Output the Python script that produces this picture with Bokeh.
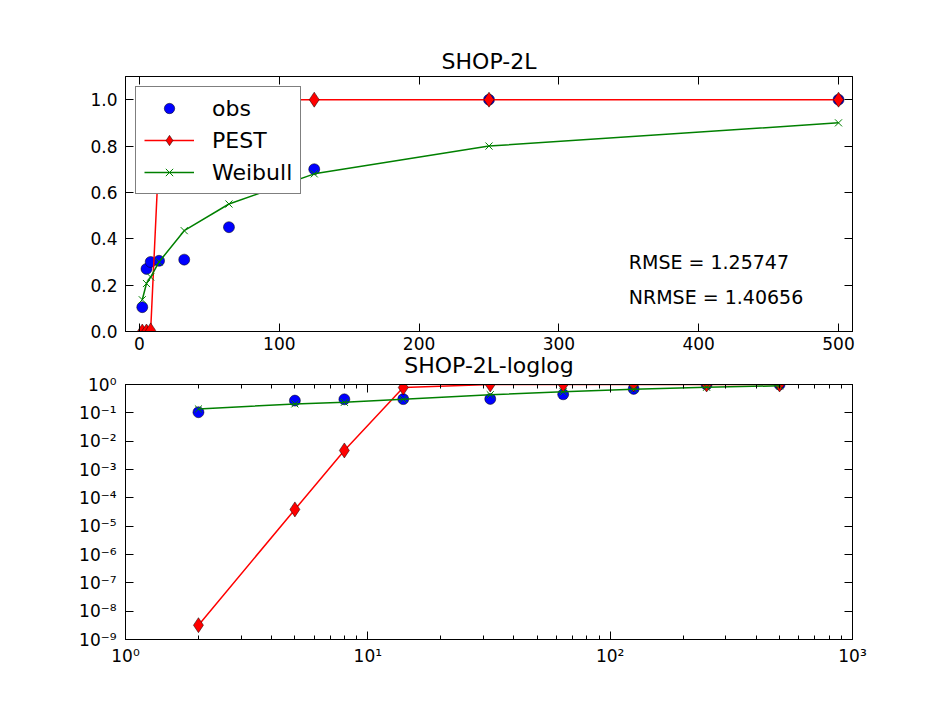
from bokeh.plotting import figure
from bokeh.layouts import column
from bokeh.models import (Range1d, LinearAxis, LogAxis, FixedTicker, PrintfTickFormatter,
                          CustomJSTickFormatter, Legend, LegendItem, ColumnDataSource)
from bokeh.core.properties import value
from bokeh.embed import file_html
from bokeh.resources import INLINE

# ---------------- data ----------------
x_vals = [2, 5, 8, 14, 32, 64, 125, 250, 500]
obs = [0.105, 0.27, 0.30, 0.305, 0.31, 0.45, 0.70, 1.0, 1.0]
pest = [3.2e-9, 3.9e-5, 4.7e-3, 0.78, 1.0, 1.0, 1.0, 1.0, 1.0]
weibull = [0.137, 0.207, 0.235, 0.30, 0.435, 0.55, 0.68, 0.80, 0.90]

title_lin = "SHOP-2L"
title_log = "SHOP-2L-loglog"
rmse_label = "RMSE = 1.25747"
nrmse_label = "NRMSE = 1.40656"
stat_x = [350, 350]
stat_y = [0.30, 0.15]

lin_xticks = [0, 100, 200, 300, 400, 500]
lin_yticks = [0.0, 0.2, 0.4, 0.6, 0.8, 1.0]
log_xticks = [1, 10, 100, 1000]
log_xminor = [m * d for d in (1, 10, 100) for m in range(2, 10)]
log_yticks = [1e-9, 1e-8, 1e-7, 1e-6, 1e-5, 1e-4, 1e-3, 1e-2, 1e-1, 1]

FONT = "DejaVu Sans"
TICK_FS = "17px"
BLUE = "#0000ff"
RED = "#ff0000"
GREEN = "#008000"

src = ColumnDataSource(dict(x=x_vals, obs=obs, pest=pest, weibull=weibull))

SUP = CustomJSTickFormatter(code="""
const s = {'-':'\u207b','0':'\u2070','1':'\u00b9','2':'\u00b2','3':'\u00b3','4':'\u2074',
           '5':'\u2075','6':'\u2076','7':'\u2077','8':'\u2078','9':'\u2079'};
const e = Math.round(Math.log10(tick));
return '10' + String(e).split('').map(c => s[c]).join('');
""")
BLANK = CustomJSTickFormatter(code="return ''")


def style_axis(ax, standoff):
    ax.axis_line_color = "black"
    ax.major_tick_line_color = "black"
    ax.minor_tick_line_color = "black"
    ax.major_tick_in = 8
    ax.major_tick_out = 0
    ax.minor_tick_in = 4
    ax.minor_tick_out = 0
    ax.major_label_text_font = FONT
    ax.major_label_text_font_size = TICK_FS
    ax.major_label_text_color = "black"
    ax.major_label_standoff = standoff


def style_fig(p):
    p.xgrid.visible = False
    p.ygrid.visible = False
    p.outline_line_color = "black"
    p.outline_line_width = 1
    p.background_fill_color = "white"
    p.title.text_font = FONT
    p.title.text_font_style = "normal"
    p.title.text_font_size = "22px"
    p.title.align = "center"
    p.title.text_color = "black"


def draw_series(p):
    r_obs = p.scatter("x", "obs", source=src, marker="circle", size=11,
                      fill_color=BLUE, line_color="black", line_width=0.5)
    r_pl = p.line("x", "pest", source=src, line_color=RED, line_width=1.5)
    r_pm = p.scatter("x", "pest", source=src, marker="diamond", size=15,
                     fill_color=RED, line_color="black", line_width=0.5)
    r_wl = p.line("x", "weibull", source=src, line_color=GREEN, line_width=1.5)
    r_wm = p.scatter("x", "weibull", source=src, marker="x", size=10,
                     line_color=GREEN, line_width=1)
    return r_obs, r_pl, r_pm, r_wl, r_wm


# ---------------- linear plot ----------------
p1 = figure(frame_width=727, frame_height=255, x_range=Range1d(-10, 510),
            y_range=Range1d(0, 1.1), output_backend="svg", toolbar_location=None,
            min_border_left=125, min_border_right=64, min_border_top=76,
            min_border_bottom=0, title=title_lin)
style_fig(p1)
p1.border_fill_color = "white"
p1.title.standoff = 6
p1.xaxis.ticker = FixedTicker(ticks=lin_xticks)
p1.yaxis.ticker = FixedTicker(ticks=lin_yticks)
p1.yaxis.formatter = PrintfTickFormatter(format="%.1f")
style_axis(p1.xaxis[0], 5)
style_axis(p1.yaxis[0], 8)
p1.xaxis.minor_tick_line_color = None
p1.yaxis.minor_tick_line_color = None
ax_r = LinearAxis(ticker=FixedTicker(ticks=lin_yticks), formatter=BLANK)
ax_t = LinearAxis(ticker=FixedTicker(ticks=lin_xticks), formatter=BLANK)
for a in (ax_r, ax_t):
    style_axis(a, 0)
    a.minor_tick_line_color = None
p1.add_layout(ax_r, "right")
p1.add_layout(ax_t, "above")

r_obs, r_pl, r_pm, r_wl, r_wm = draw_series(p1)

p1.text(x=stat_x, y=stat_y, text=[rmse_label, nrmse_label], text_font=value(FONT),
        text_font_size="19px", text_color="black", text_baseline="alphabetic",
        text_align="left")

legend = Legend(items=[LegendItem(label="obs", renderers=[r_obs]),
                       LegendItem(label="PEST", renderers=[r_pl, r_pm]),
                       LegendItem(label="Weibull", renderers=[r_wl, r_wm])],
                location="top_left")
legend.border_line_color = "black"
legend.border_line_width = 1
legend.background_fill_color = "white"
legend.background_fill_alpha = 1
legend.label_text_font = FONT
legend.label_text_font_size = "22px"
legend.label_text_color = "black"
legend.margin = 10
legend.padding = 8
legend.spacing = 6
legend.glyph_width = 50
legend.glyph_height = 26
legend.label_height = 26
legend.label_standoff = 18
p1.add_layout(legend)

# ---------------- log-log plot ----------------
p2 = figure(frame_width=727, frame_height=255, x_axis_type="log", y_axis_type="log",
            x_range=Range1d(1, 1000), y_range=Range1d(1e-9, 1),
            output_backend="svg", toolbar_location=None,
            min_border_left=125, min_border_right=64, min_border_top=0,
            min_border_bottom=50, title=title_log)
style_fig(p2)
p2.border_fill_color = None
p2.title.standoff = 14
# pull the lower panel up a little so its title sits close to the upper tick labels
p2.styles = {"margin-top": "-9px"}
p2.xaxis.ticker = FixedTicker(ticks=log_xticks, minor_ticks=log_xminor)
p2.yaxis.ticker = FixedTicker(ticks=log_yticks)
p2.xaxis.formatter = SUP
p2.yaxis.formatter = SUP
style_axis(p2.xaxis[0], 6)
style_axis(p2.yaxis[0], 9)
ax_r2 = LogAxis(ticker=FixedTicker(ticks=log_yticks), formatter=BLANK)
ax_t2 = LogAxis(ticker=FixedTicker(ticks=log_xticks, minor_ticks=log_xminor), formatter=BLANK)
for a in (ax_r2, ax_t2):
    style_axis(a, 0)
p2.add_layout(ax_r2, "right")
p2.add_layout(ax_t2, "above")

draw_series(p2)

layout = column(p1, p2, spacing=0)
open("out.html", "w").write(file_html(layout, INLINE))
